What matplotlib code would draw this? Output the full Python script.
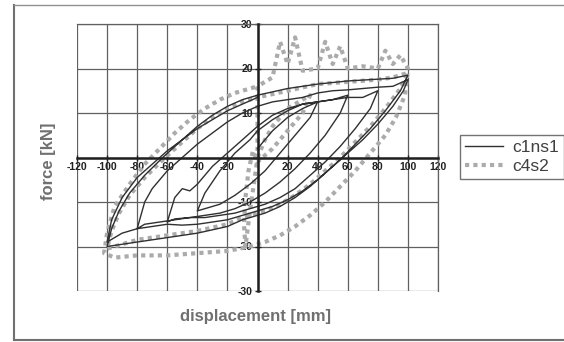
import numpy as np
import matplotlib.pyplot as plt
from matplotlib.lines import Line2D

# c1ns1 - cycles (displacement mm, force kN)
c1_d1 = [0, 10, 20, 30, 40, 35, 25, 15, 5, -5, -15, -25, -35, -40, -35, -25, -15, -5, 0]
c1_f1 = [2, 6, 9, 11, 12.5, 9, 5, 1, -3, -6, -8.5, -10.5, -11.5, -12, -8, -3, 1, 4, 6]

c1_d2 = [0, 10, 20, 30, 40, 50, 60, 55, 45, 35, 25, 15, 5, -5, -15, -25, -35, -45, -55, -60,
         -55, -50, -45, -40, -30, -20, -10, 0]
c1_f2 = [6, 8.5, 10.5, 12, 12.5, 13, 14, 10, 5, 1, -2.5, -5.5, -8, -10, -11.5, -12.5, -13, -13.5, -13.8, -14.5,
         -9, -7, -7.5, -6, -2, 1, 4, 7]

c1_d3 = [0, 10, 20, 30, 40, 50, 60, 70, 80, 75, 65, 55, 45, 35, 25, 15, 5, -5, -15, -25, -35, -45,
         -55, -65, -75, -80, -75, -70, -60, -50, -40, -30, -20, -10, 0]
c1_f3 = [7, 9.5, 11, 12, 12.5, 13, 13.5, 13.5, 15, 11, 6.5, 2.5, -1, -4, -7, -9, -10.5, -11.5, -12.5, -13,
         -13.5, -13.5, -14, -14.5, -15, -16, -10, -7, -3, 0, 3, 5.5, 8, 10, 11.5]

c1_d4 = [0, 10, 20, 30, 40, 50, 60, 70, 80, 90, 100, 97, 90, 80, 70, 60, 50, 40, 30, 20, 10, 0,
         -10, -20, -30, -40, -50, -60, -70, -80, -90, -100, -97, -90, -80, -70, -60, -50, -40, -30,
         -20, -10, 0]
c1_f4 = [11.5, 12.5, 13, 13.5, 14.5, 15, 15.2, 15.5, 15.8, 16, 17.5, 15, 11.5, 7.5, 4, 1, -2, -5, -7.5,
         -9.5, -11, -12, -13, -14, -14.5, -15, -15.2, -15, -15.5, -16, -17, -19, -14, -9, -4.5,
         -1.5, 1.5, 4, 6.5, 8.5, 10.5, 12, 13.5]

c1_d5 = [0, 20, 40, 60, 80, 90, 100, 95, 85, 75, 65, 55, 45, 35, 25, 15, 5, -10, -20, -40, -60,
         -80, -100, -97, -92, -85, -75, -63, -50, -40, -30, -20, -10, 0]
c1_f5 = [14, 15.5, 16.5, 17.2, 17.6, 17.8, 18.5, 15, 10.5, 6.5, 3, -0.5, -3.5, -6.5, -9, -11, -12.5,
         -14, -15.5, -17, -18, -19, -20, -16, -12, -8, -4, 0, 4, 7, 9.5, 11.5, 13, 14]

# c4s2 - pinched inner cycle, band cycle and outer scattered envelope
c4_d1 = [0, 5, 10, 20, 30, 35, 30, 20, 10, 0, -3, -6, -8, -9, -8, -5, -2, 0]
c4_f1 = [0, 4, 7, 11, 13, 14, 10, 6, 2, -1, 1.5, -3, -9, -15, -20, -12, -5, 0]

c4_d2 = [0, 20, 40, 60, 80, 90, 100, 95, 85, 75, 65, 55, 45, 35, 25, 15, 5, -10, -20, -40, -60,
         -80, -100, -97, -92, -85, -75, -63, -50, -40, -30, -20, -10, 0]
c4_f2 = [13.5, 15, 16.5, 17, 17.5, 18, 19, 15.5, 11, 7, 3.5, 0, -3, -6, -8.5, -10.5, -12, -13.5,
         -15, -16.5, -17.5, -18.5, -20.5, -16.5, -12.5, -8.5, -4.5, -0.5, 3.5, 6.5, 9, 11, 12.5, 13.5]

c4_d3 = [0, 10, 15, 20, 25, 30, 40, 45, 50, 55, 60, 70, 80, 85, 90, 95, 100, 98, 92, 85, 75, 65,
         55, 45, 35, 25, 15, 5, -5, -20, -40, -60, -80, -95, -102, -100, -95, -85, -75, -65, -55,
         -45, -35, -25, -15, -5, 0]
c4_f3 = [16, 18, 26, 21, 27, 19.5, 20, 26, 21, 25, 20, 20.5, 20, 24, 21, 23, 20, 14, 9, 5, 1, -3,
         -6.5, -10, -13, -15.5, -17.5, -19, -20, -21, -21.5, -22, -22, -22.5, -21.5, -17, -11, -6,
         -1.5, 2, 5.5, 8.5, 11, 13, 14.5, 15.5, 16]

x_ticks = [-120, -100, -80, -60, -40, -20, 0, 20, 40, 60, 80, 100, 120]
y_ticks = [-30, -20, -10, 0, 10, 20, 30]

c1_d = c1_d1 + c1_d2 + c1_d3 + c1_d4 + c1_d5
c1_f = c1_f1 + c1_f2 + c1_f3 + c1_f4 + c1_f5
c4_d = c4_d1 + c4_d2 + c4_d3
c4_f = c4_f1 + c4_f2 + c4_f3

plt.rcParams['font.family'] = ['Liberation Sans', 'DejaVu Sans']

fig = plt.figure(figsize=(5.64, 3.42), dpi=100)
ax = fig.add_axes([77 / 564, 1 - 291 / 342, 361 / 564, 267 / 342])

ax.plot(c4_d, c4_f, color='#ababab', lw=3, ls=(0, (1, 1)), zorder=2, label='c4s2')
ax.plot(c1_d, c1_f, color='#303030', lw=1.0, zorder=3, label='c1ns1')

ax.set_xlim(-120, 120)
ax.set_ylim(-30, 30)
ax.set_xticks(x_ticks)
ax.set_yticks(y_ticks)
ax.set_xticklabels(['' if v == 0 else str(v) for v in x_ticks])
ax.set_yticklabels(['' if v == 0 else str(v) for v in y_ticks])
ax.grid(True, color='#606060', lw=0.9)
ax.set_axisbelow(True)

for s in ['left', 'bottom']:
    ax.spines[s].set_position('zero')
    ax.spines[s].set_color('#202020')
    ax.spines[s].set_linewidth(1.8)
    ax.spines[s].set_zorder(4)
for s in ['top', 'right']:
    ax.spines[s].set_color('#606060')
    ax.spines[s].set_linewidth(0.9)

ax.tick_params(direction='inout', length=5, width=1, colors='#202020', labelsize=7.5, pad=1)
for lab in ax.get_xticklabels() + ax.get_yticklabels():
    lab.set_fontweight('bold')

fig.text(256 / 564, 1 - 316 / 342, 'displacement [mm]', ha='center', va='center',
         fontsize=12, fontweight='bold', color='#707070')
fig.text(48 / 564, 1 - 161 / 342, 'force [kN]', ha='center', va='center', rotation=90,
         fontsize=12, fontweight='bold', color='#707070')

h, l = ax.get_legend_handles_labels()
leg = fig.legend([h[1], h[0]], [l[1], l[0]], loc='center', bbox_to_anchor=(512 / 564, 1 - 157 / 342),
                 frameon=True, fancybox=False, fontsize=12.5, handlelength=2.2,
                 borderpad=0.3, labelspacing=0.2, handletextpad=0.5, borderaxespad=0)
leg.get_frame().set_edgecolor('#505050')
leg.get_frame().set_linewidth(1.0)
for t in leg.get_texts():
    t.set_color('#404040')

# outer frame (left, top, bottom)
fig.add_artist(Line2D([14 / 564, 14 / 564], [1 - 5 / 342, 1 - 340 / 342], color='#707070', lw=1.5))
fig.add_artist(Line2D([14 / 564, 1], [1 - 5 / 342, 1 - 5 / 342], color='#909090', lw=1))
fig.add_artist(Line2D([14 / 564, 1], [1 - 340 / 342, 1 - 340 / 342], color='#707070', lw=1.5))

fig.savefig('out.png', dpi=100)
